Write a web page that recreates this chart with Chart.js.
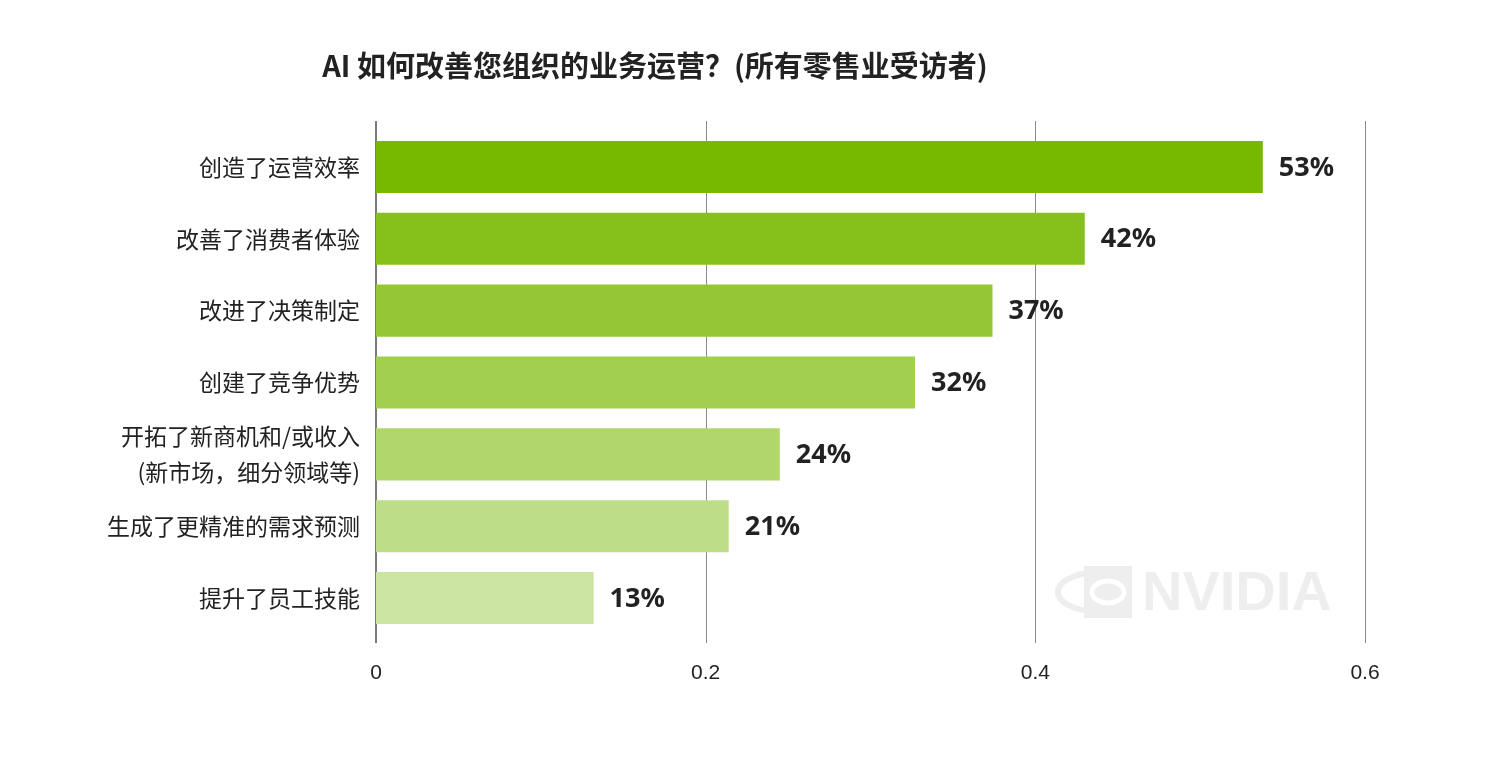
<!DOCTYPE html>
<html>
<head>
<meta charset="utf-8">
<script src="https://cdn.jsdelivr.net/npm/chart.js@4.4.1/dist/chart.umd.min.js"></script>
<style>
  html, body { margin: 0; padding: 0; background: #fff; }
  #wrap { width: 1488px; height: 757px; }
</style>
</head>
<body>
<div id="wrap"><canvas id="chartAI"></canvas></div>
<script>
const titulo = 'AI 如何改善您组织的业务运营？(所有零售业受访者)';
const categorias = [
  '创造了运营效率',
  '改善了消费者体验',
  '改进了决策制定',
  '创建了竞争优势',
  ['开拓了新商机和/或收入', '(新市场，细分领域等)'],
  '生成了更精准的需求预测',
  '提升了员工技能'
];
const valores = [0.538, 0.43, 0.374, 0.327, 0.245, 0.214, 0.132];
const etiquetas = ['53%', '42%', '37%', '32%', '24%', '21%', '13%'];
const colores = ['#76b900', '#86c11b', '#93c735', '#a2cf50', '#b1d76c', '#bedd88', '#cbe4a1'];
const ticksX = [0, 0.2, 0.4, 0.6];

// titulo, marca de agua, lineas verticales y etiquetas de valor
const extras = {
  id: 'extras',
  beforeDatasetsDraw(chart) {
    const ctx = chart.ctx;
    const area = chart.chartArea;
    const x = chart.scales.x;
    ctx.save();
    // marca de agua
    ctx.fillStyle = '#eeeeee';
    ctx.fillRect(1084, 566, 48, 52);
    ctx.strokeStyle = '#eeeeee';
    ctx.lineWidth = 6;
    ctx.beginPath();
    ctx.ellipse(1100, 592, 42, 20, 0, Math.PI * 0.5, Math.PI * 1.5);
    ctx.stroke();
    ctx.strokeStyle = '#ffffff';
    ctx.lineWidth = 5;
    ctx.beginPath();
    ctx.ellipse(1108, 592, 16, 11, 0, 0, Math.PI * 2);
    ctx.stroke();
    ctx.font = 'bold 56px "Liberation Sans", sans-serif';
    ctx.fillStyle = '#eeeeee';
    ctx.textAlign = 'left';
    ctx.textBaseline = 'middle';
    ctx.fillText('NVIDIA', 1142, 595);
    // lineas verticales
    ticksX.forEach(v => {
      const px = Math.round(x.getPixelForValue(v));
      ctx.strokeStyle = v === 0 ? '#7a7a7a' : '#8a8a8a';
      ctx.lineWidth = v === 0 ? 2 : 1;
      ctx.beginPath();
      ctx.moveTo(px + (v === 0 ? 0 : 0.5), area.top - 10);
      ctx.lineTo(px + (v === 0 ? 0 : 0.5), area.bottom + 9);
      ctx.stroke();
    });
    ctx.restore();
  },
  afterDatasetsDraw(chart) {
    const ctx = chart.ctx;
    ctx.save();
    ctx.font = 'bold 27px "Noto Sans", sans-serif';
    ctx.fillStyle = '#222222';
    ctx.textAlign = 'left';
    ctx.textBaseline = 'middle';
    chart.getDatasetMeta(0).data.forEach((bar, i) => {
      ctx.fillText(etiquetas[i], bar.x + 16, bar.y + 1);
    });
    ctx.font = 'bold 29px "Noto Sans CJK SC", sans-serif';
    ctx.textAlign = 'center';
    ctx.fillText(titulo, 655, 66);
    ctx.restore();
  }
};

const ctxAI = document.getElementById('chartAI').getContext('2d');
new Chart(ctxAI, {
  type: 'bar',
  data: {
    labels: categorias,
    datasets: [{
      data: valores,
      backgroundColor: colores,
      borderWidth: 0,
      barPercentage: 0.725,
      categoryPercentage: 1
    }]
  },
  options: {
    indexAxis: 'y',
    responsive: true,
    maintainAspectRatio: false,
    animation: false,
    layout: { padding: { top: 131, right: 123, bottom: 0, left: 0 } },
    scales: {
      x: {
        min: 0,
        max: 0.6,
        afterFit: s => { s.height = 123; },
        afterBuildTicks: s => { s.ticks = ticksX.map(v => ({ value: v })); },
        grid: { display: false, drawTicks: false },
        border: { display: false },
        ticks: {
          padding: 27,
          color: '#222222',
          font: { family: '"Liberation Sans Narrow", "Liberation Sans", sans-serif', size: 21 },
          callback: v => String(Number(v.toFixed(1)))
        }
      },
      y: {
        afterFit: s => { s.width = 376; },
        grid: { display: false, drawTicks: false },
        border: { display: false },
        ticks: {
          autoSkip: false,
          padding: 16,
          color: '#222222',
          font: { family: '"Noto Sans CJK SC", sans-serif', size: 23, lineHeight: 1.55 }
        }
      }
    },
    plugins: {
      legend: { display: false },
      tooltip: { enabled: false }
    }
  },
  plugins: [extras]
});
</script>
</body>
</html>
